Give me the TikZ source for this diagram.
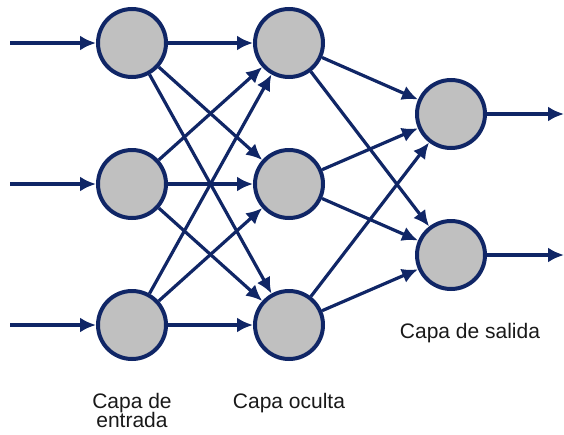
\documentclass[tikz,border=0pt]{standalone}
\usepackage{fontspec}
\setmainfont{Liberation Sans}
\usetikzlibrary{arrows.meta}
\definecolor{navy}{RGB}{16,38,102}
\definecolor{cellgray}{RGB}{192,192,192}
\begin{document}
\begin{tikzpicture}[x=1pt,y=-1pt]
        \tikzstyle{neuron}=[circle,line width=4pt,draw=navy,fill=cellgray,minimum size=68pt,inner sep=0pt]
        \tikzstyle{edge}=[draw=navy,line width=3.2pt,-{Latex[length=16pt,width=15pt]}]
        \tikzstyle{layer}=[font=\fontsize{21}{23}\selectfont,align=center,text=black!90]
       \useasboundingbox (0,0) rectangle (564,434);
       \begin{scope}
         \node [neuron] (i1) at (132,43) {};
         \node [neuron] (i2) at (132,184) {};
         \node [neuron] (i3) at (132,325) {};
         \node [neuron] (h1) at (289,43) {};
         \node [neuron] (h2) at (289,184) {};
         \node [neuron] (h3) at (289,325) {};
         \node [neuron] (o1) at (451,114) {};
         \node [neuron] (o2) at (451,255) {};
         \coordinate (in1) at (10,43);
         \coordinate (in2) at (10,184);
         \coordinate (in3) at (10,325);
         \coordinate (out1) at (564,114);
         \coordinate (out2) at (564,255);
         % entradas y salidas
         \path (in1) edge[edge] (i1);
         \path (in2) edge[edge] (i2);
         \path (in3) edge[edge] (i3);
         \path (o1) edge[edge] (out1);
         \path (o2) edge[edge] (out2);
         % capa de entrada -> capa oculta
         \path (i1) edge[edge] (h1) edge[edge] (h2) edge[edge] (h3);
         \path (i2) edge[edge] (h1) edge[edge] (h2) edge[edge] (h3);
         \path (i3) edge[edge] (h1) edge[edge] (h2) edge[edge] (h3);
         % capa oculta -> capa de salida
         \path (h1) edge[edge] (o1) edge[edge] (o2);
         \path (h2) edge[edge] (o1) edge[edge] (o2);
         \path (h3) edge[edge] (o1) edge[edge] (o2);
         \node [layer] (lin) at (132,410) {Capa de\\[-4pt]entrada};
         \node [layer] (lhid) at (289,403) {Capa oculta};
         \node [layer] (lout) at (470,333) {Capa de salida};
        \end{scope}
      \end{tikzpicture}
\end{document}
